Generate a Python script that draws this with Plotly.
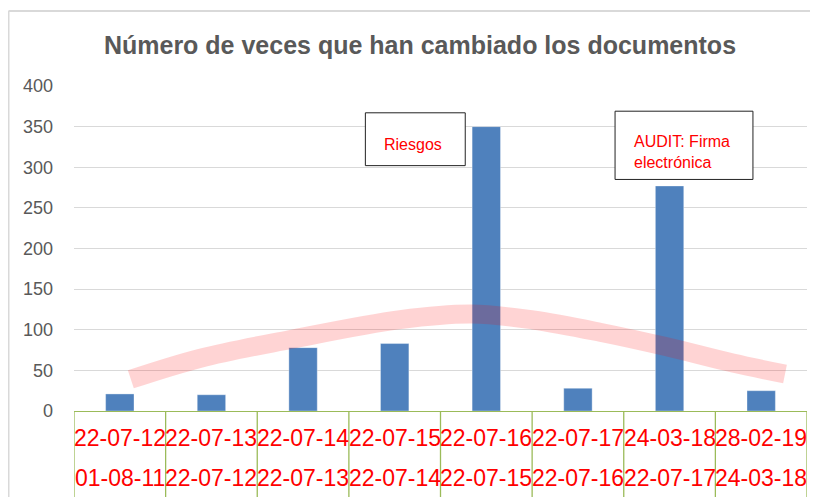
import plotly.graph_objects as go

# ---- data ----
labels_top = ["22-07-12", "22-07-13", "22-07-14", "22-07-15", "22-07-16", "22-07-17", "24-03-18", "28-02-19"]
labels_bottom = ["01-08-11", "22-07-12", "22-07-13", "22-07-14", "22-07-15", "22-07-16", "22-07-17", "24-03-18"]
changes = [21, 20, 78, 83, 350, 28, 277, 25]

# trend band (x in category index units)
trend_x = [0.12, 0.88, 1.86, 3.06, 3.84, 4.51, 5.24, 5.97, 6.69, 7.26]
trend_y = [39, 65, 88, 112.5, 119.4, 112, 97, 79, 59, 45.5]

y_ticks = [0, 50, 100, 150, 200, 250, 300, 350, 400]
title_text = "Número de veces que han cambiado los documentos"

note_texts = ["Riesgos", "AUDIT: Firma<br>electrónica"]
note_x0 = [2.68, 5.405]
note_x1 = [3.77, 6.91]
note_y0 = [302, 285]
note_y1 = [367, 369]
note_shift = [-5, -7]

# ---- figure geometry (page has an 8px body margin) ----
OFF = 8
W, H = 818 - OFF, 497 - OFF
PL, PR, PT, PB = 74, 807, 86, 411          # plot area in page pixels
L, T = PL - OFF, PT - OFF
R, B = W - (PR - OFF), H - (PB - OFF)
PW, PH = PR - PL, PB - PT

def px_x(p):
    return (p - PL) / PW

def px_y(p):
    return (PB - p) / PH

xs = list(range(len(changes)))
FONT = "Liberation Sans, Arial, sans-serif"
GREEN = "#9BBB59"
RED = "#FF0000"

fig = go.Figure()
fig.add_trace(go.Bar(
    x=xs, y=changes, width=0.31,
    marker=dict(color="#4F81BD", line=dict(color="rgba(255,255,255,0.35)", width=1)),
    showlegend=False,
))
fig.add_trace(go.Scatter(
    x=trend_x, y=trend_y, mode="lines",
    line=dict(color="rgba(255,0,0,0.17)", width=19, shape="spline", smoothing=1),
    showlegend=False,
))

shapes = []
# green category boxes
for k in range(len(changes) + 1):
    shapes.append(dict(type="line", xref="x", yref="paper", x0=k - 0.5, x1=k - 0.5,
                       y0=0, y1=px_y(505), line=dict(color=GREEN, width=1.3), layer="above"))
# outer chart border (only top & left visible)
shapes.append(dict(type="line", xref="paper", yref="paper", x0=px_x(8.5), x1=px_x(830),
                   y0=px_y(11), y1=px_y(11), line=dict(color="#D9D9D9", width=2)))
shapes.append(dict(type="line", xref="paper", yref="paper", x0=px_x(8.5), x1=px_x(8.5),
                   y0=px_y(11), y1=px_y(510), line=dict(color="#D9D9D9", width=2)))

annotations = []
for i in xs:
    annotations.append(dict(x=i, y=px_y(438), xref="x", yref="paper", text=labels_top[i],
                            showarrow=False, font=dict(family=FONT, size=23, color=RED),
                            xanchor="center", yanchor="middle"))
    annotations.append(dict(x=i, y=px_y(478), xref="x", yref="paper", text=labels_bottom[i],
                            showarrow=False, font=dict(family=FONT, size=23, color=RED),
                            xanchor="center", yanchor="middle"))

for j, txt in enumerate(note_texts):
    shapes.append(dict(type="rect", xref="x", yref="y", x0=note_x0[j], x1=note_x1[j],
                       y0=note_y0[j], y1=note_y1[j],
                       fillcolor="white", line=dict(color="#222222", width=1), layer="above"))
    annotations.append(dict(x=note_x0[j] + 0.185, y=(note_y0[j] + note_y1[j]) / 2, xref="x", yref="y",
                            yshift=note_shift[j],
                            text=txt, showarrow=False, align="left",
                            xanchor="left", yanchor="middle",
                            font=dict(family=FONT, size=16, color=RED)))

fig.update_layout(
    width=W, height=H,
    margin=dict(l=L, r=R, t=T, b=B, pad=0),
    paper_bgcolor="white", plot_bgcolor="white",
    title=dict(text="<b>" + title_text + "</b>", xref="container", yref="container",
               x=(420 - OFF) / W, y=1 - (45 - OFF) / H, xanchor="center", yanchor="middle",
               font=dict(family=FONT, size=25, color="#595959")),
    xaxis=dict(range=[-0.5, len(changes) - 0.5], showticklabels=False, showgrid=False,
               zeroline=False, showline=True, linecolor=GREEN, linewidth=1.3, ticks=""),
    yaxis=dict(range=[0, 400], tickvals=y_ticks, showgrid=True, gridcolor="#D9D9D9", gridwidth=1,
               zeroline=False, showline=False, ticks="", ticklabelstandoff=20,
               tickfont=dict(family=FONT, size=18, color="#595959")),
    shapes=shapes, annotations=annotations,
    bargap=0.69,
)

fig.write_html("out.html", config={"displayModeBar": False})
